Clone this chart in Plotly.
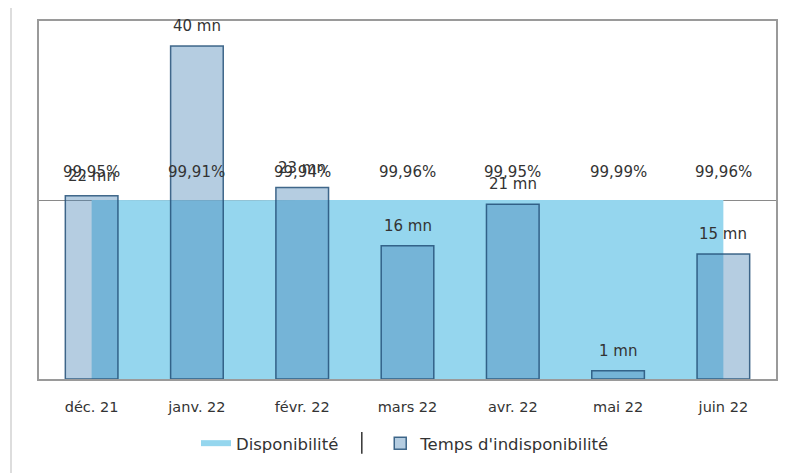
import plotly.graph_objects as go

categories = ["déc. 21", "janv. 22", "févr. 22", "mars 22", "avr. 22", "mai 22", "juin 22"]
availability = [99.95, 99.91, 99.94, 99.96, 99.95, 99.99, 99.96]
downtime = [22, 40, 23, 16, 21, 1, 15]

FONT = "DejaVu Sans"
TXT = "#333333"

fig = go.Figure()

fig.add_trace(go.Scatter(
    x=categories, y=availability, name="Disponibilité",
    mode="none", fill="tozeroy", fillcolor="#95d6ee",
    yaxis="y", hoverinfo="skip", legend="legend",
))
fig.add_trace(go.Bar(
    x=categories, y=downtime, name="Temps d'indisponibilité",
    marker=dict(color="rgba(70,130,180,0.4)", line=dict(color="rgba(35,80,120,0.85)", width=1.5)),
    width=0.5, yaxis="y2", legend="legend2",
))

annotations = []
for c, v in zip(categories, downtime):
    annotations.append(dict(x=c, y=v, xref="x", yref="y2", text=f"{v} mn",
                            showarrow=False, yshift=20, font=dict(family=FONT, size=15, color=TXT)))
for c, v in zip(categories, availability):
    annotations.append(dict(x=c, y=v, xref="x", yref="y", text=f"{v:.2f}%".replace(".", ","),
                            showarrow=False, yshift=28, font=dict(family=FONT, size=15, color=TXT)))

shapes = [
    # outer card frame
    dict(type="line", xref="paper", yref="paper", x0=-0.038, x1=1.05, y0=1.043, y1=1.043,
         line=dict(color="#dddddd", width=2)),
    dict(type="line", xref="paper", yref="paper", x0=-0.038, x1=-0.038, y0=1.043, y1=-0.3,
         line=dict(color="#dddddd", width=2)),
    # legend separator
    dict(type="line", xref="paper", yref="paper", x0=0.438, x1=0.438, y0=-0.148, y1=-0.209,
         line=dict(color="#333333", width=1.5)),
]

legend_common = dict(orientation="h", xanchor="left", y=-0.18, yanchor="middle",
                     font=dict(family=FONT, size=16.5, color=TXT),
                     bgcolor="rgba(0,0,0,0)")

fig.update_layout(
    width=787, height=473,
    margin=dict(l=31, r=19, t=13, b=102),
    paper_bgcolor="white", plot_bgcolor="white",
    font=dict(family=FONT, size=14, color=TXT),
    showlegend=True,
    legend=dict(x=0.213, **legend_common),
    legend2=dict(x=0.463, **legend_common),
    xaxis=dict(type="category", categoryorder="array", categoryarray=categories,
               range=[-0.5, 6.5], showline=True, linecolor="#9a9a9a", linewidth=2, mirror=True,
               ticks="", ticklabelstandoff=14, tickfont=dict(family=FONT, size=14.5, color=TXT),
               showgrid=False),
    yaxis=dict(range=[0, 200], dtick=100, showticklabels=False, showgrid=True,
               gridcolor="#8a8a8a", gridwidth=1, zeroline=False,
               showline=True, linecolor="#9a9a9a", linewidth=2, mirror=True, ticks=""),
    yaxis2=dict(range=[0, 43], overlaying="y", showticklabels=False, showgrid=False,
                zeroline=False, showline=False, ticks=""),
    annotations=annotations,
    shapes=shapes,
    bargap=0.5,
)

fig.write_html("out.html")
